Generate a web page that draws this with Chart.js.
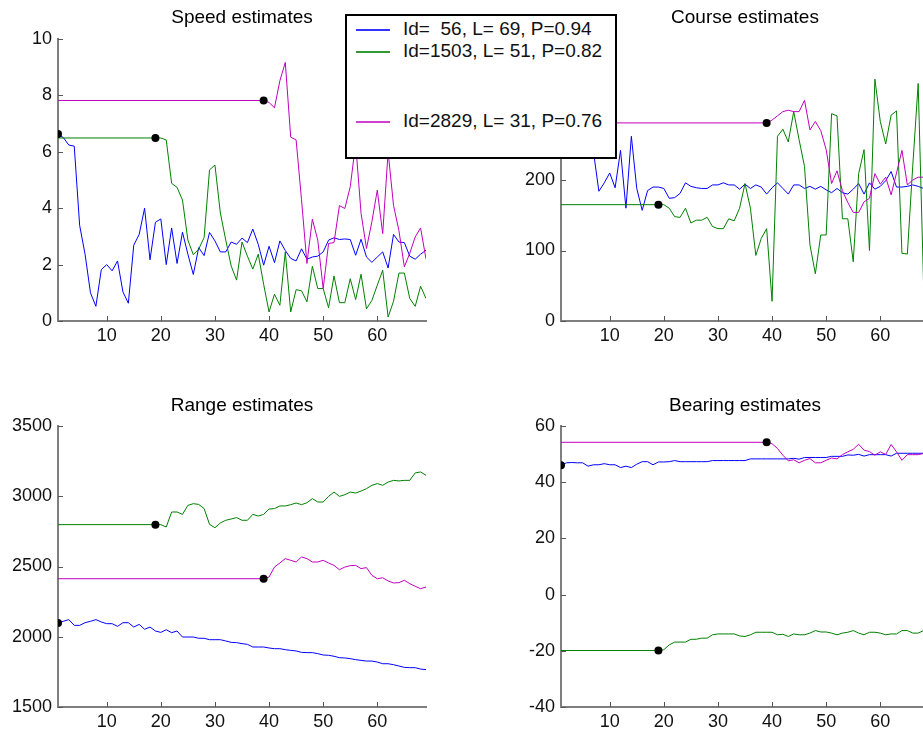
<!DOCTYPE html>
<html>
<head>
<meta charset="utf-8">
<title>Track estimates</title>
<script src="https://cdn.jsdelivr.net/npm/chart.js@4.4.1/dist/chart.umd.min.js"></script>
<style>
  html, body { margin: 0; padding: 0; background: #fff; overflow: hidden; }
  body { position: relative; width: 923px; height: 735px; font-family: "Liberation Sans", Arial, Helvetica, sans-serif; }
  canvas { position: absolute; }
  #legend {
    position: absolute; left: 345px; top: 14px; width: 268px; height: 141px;
    border: 2px solid #000; background: #fff; z-index: 5;
  }
  #legend .row { position: absolute; left: 0; height: 20px; width: 100%; }
  #legend .swatch { position: absolute; left: 9px; top: 10px; width: 34px; height: 2px; }
  #legend .txt { position: absolute; left: 56px; top: 0; font-size: 19px; line-height: 20px; white-space: pre; color: #111; }
</style>
</head>
<body>
<canvas id="speed" width="440" height="350" style="left:0;top:0"></canvas>
<canvas id="course" width="440" height="350" style="left:503px;top:0"></canvas>
<canvas id="range" width="440" height="350" style="left:0;top:386px"></canvas>
<canvas id="bearing" width="440" height="350" style="left:503px;top:386px"></canvas>

<div id="legend">
  <div class="row" style="top:3px"><div class="swatch" style="background:#3333ff"></div><div class="txt">Id=  56, L= 69, P=0.94</div></div>
  <div class="row" style="top:25px"><div class="swatch" style="background:#339933"></div><div class="txt">Id=1503, L= 51, P=0.82</div></div>
  <div class="row" style="top:95px"><div class="swatch" style="background:#d040d0"></div><div class="txt">Id=2829, L= 31, P=0.76</div></div>
</div>

<script>
// track start scans (each track is held constant before it starts)
const blueStart = 1;
const greenStart = 19;
const magentaStart = 39;
const lastScan = 69;

const xTicks = [10, 20, 30, 40, 50, 60];
const speedTicks = [0, 2, 4, 6, 8, 10];
const courseTicks = [0, 100, 200, 300, 400];
const rangeTicks = [1500, 2000, 2500, 3000, 3500];
const bearingTicks = [-40, -20, 0, 20, 40, 60];

// speed estimates
const speedBlue = [6.63, 6.5, 6.24, 6.2, 3.39, 2.37, 1.0, 0.52, 1.82, 2.0,
  1.78, 2.13, 1.03, 0.63, 2.69, 3.07, 4.0, 2.17, 3.5, 3.62,
  2.0, 3.3, 2.04, 3.15, 2.37, 1.65, 2.6, 2.32, 3.14, 2.84,
  2.45, 2.45, 2.8, 2.72, 2.94, 2.78, 3.26, 2.72, 1.98, 2.65,
  2.07, 2.84, 2.5, 2.22, 2.13, 2.56, 2.19, 2.27, 2.3, 2.45,
  2.87, 2.95, 2.89, 2.91, 2.89, 2.33, 2.9, 2.27, 2.08, 2.27,
  2.45, 1.88, 3.07, 2.8, 2.78, 2.3, 2.19, 2.37, 2.51];
const speedGreen = [6.49, 6.49, 6.42, 4.88, 4.74, 4.29, 2.87, 2.35, 2.55, 2.96,
  5.36, 5.53, 3.83, 2.87, 1.95, 1.45, 2.8, 2.3, 1.84, 2.37,
  1.3, 0.32, 0.95, 0.56, 2.45, 0.32, 1.11, 1.07, 0.68, 1.94,
  1.15, 1.15, 0.47, 1.6, 0.65, 0.65, 1.5, 0.76, 1.66, 0.43,
  0.73, 1.27, 1.8, 0.14, 0.7, 1.7, 1.7, 0.8, 0.52, 1.23, 0.8];
const speedMagenta = [7.82, 7.75, 7.56, 8.52, 9.17, 6.52, 6.42, 4.3, 2.04, 3.61,
  2.87, 1.15, 2.75, 2.78, 4.09, 3.99, 4.76, 6.3, 3.82, 2.57,
  3.52, 4.64, 3.1, 6.0, 4.1, 3.2, 1.92, 2.4, 2.98, 3.3, 2.2];

// course estimates
const courseBlue = [300, 290, 285, 270, 265, 255, 240, 184, 196, 210,
  189, 242, 160, 262, 188, 157, 185, 190, 190, 188,
  174, 175, 181, 196, 191, 189, 188, 188, 193, 193,
  196, 193, 193, 187, 194, 188, 193, 190, 180, 189,
  196, 188, 180, 193, 193, 188, 191, 187, 191, 186,
  182, 188, 182, 180, 187, 195, 180, 196, 187, 191,
  199, 212, 190, 190, 191, 193, 191, 188, 188];
const courseGreen = [165, 165, 160, 148, 147, 160, 139, 143, 143, 147,
  134, 131, 131, 145, 142, 160, 195, 160, 93, 117,
  131, 28, 262, 272, 254, 297, 257, 219, 108, 67,
  122, 122, 294, 291, 145, 145, 84, 209, 243, 100,
  343, 283, 251, 292, 298, 96, 95, 220, 337, 51, 150];
const courseMagenta = [281, 285, 291, 297, 299, 297, 297, 313, 271, 283,
  270, 243, 195, 213, 185, 168, 154, 154, 169, 174,
  209, 194, 204, 179, 210, 242, 193, 200, 204, 204, 204];

// range estimates
const rangeBlue = [2098, 2110, 2122, 2081, 2081, 2100, 2110, 2122, 2105, 2093,
  2093, 2074, 2100, 2100, 2069, 2088, 2053, 2069, 2041, 2031,
  2050, 2029, 2041, 1998, 1998, 1998, 1989, 1989, 1979, 1979,
  1979, 1970, 1960, 1958, 1951, 1946, 1927, 1927, 1927, 1920,
  1915, 1915, 1908, 1903, 1899, 1889, 1887, 1887, 1880, 1870,
  1868, 1861, 1851, 1849, 1844, 1837, 1832, 1827, 1827, 1820,
  1808, 1808, 1801, 1792, 1782, 1780, 1780, 1770, 1766];
const rangeGreen = [2798, 2798, 2781, 2888, 2888, 2871, 2935, 2947, 2942, 2912,
  2800, 2776, 2810, 2829, 2838, 2848, 2829, 2829, 2871, 2859,
  2871, 2909, 2912, 2931, 2931, 2940, 2952, 2940, 2954, 2983,
  2959, 2959, 2999, 3030, 2999, 3011, 3030, 3023, 3037, 3054,
  3078, 3090, 3078, 3101, 3113, 3109, 3113, 3113, 3166, 3173, 3149];
const rangeMagenta = [2413, 2425, 2496, 2525, 2556, 2544, 2532, 2568, 2556, 2532,
  2532, 2544, 2525, 2508, 2477, 2496, 2506, 2508, 2485, 2492,
  2437, 2413, 2420, 2397, 2383, 2385, 2402, 2378, 2359, 2342, 2354];

// bearing estimates
const bearingBlue = [46.0, 46.9, 47.0, 46.9, 46.9, 45.7, 46.2, 46.2, 46.6, 46.2,
  46.2, 45.2, 45.7, 45.2, 46.4, 47.3, 47.3, 46.2, 47.2, 47.2,
  47.3, 47.7, 47.3, 47.3, 47.3, 47.3, 47.3, 47.3, 47.7, 47.7,
  47.7, 47.7, 47.7, 47.7, 47.7, 48.3, 48.3, 48.3, 48.3, 48.3,
  48.3, 48.3, 48.3, 48.5, 48.2, 48.8, 48.8, 48.8, 48.8, 48.8,
  49.2, 49.2, 49.2, 49.7, 49.6, 49.9, 49.3, 49.8, 49.8, 49.8,
  49.8, 49.3, 50.3, 50.3, 50.3, 50.3, 50.3, 50.3, 50.3];
const bearingGreen = [-19.9, -19.6, -17.9, -16.9, -16.9, -16.9, -15.9, -15.9, -15.5, -15.5,
  -14.3, -14, -14, -14, -14, -14.7, -14.9, -14.3, -13.4, -13.4,
  -13.4, -13.4, -14.3, -14.1, -14.9, -14, -14.3, -14.3, -13.7, -12.8,
  -13.3, -13.3, -13.7, -14.3, -13.7, -13.4, -12.8, -13.7, -14.3, -13.4,
  -13.4, -13.7, -14.3, -14, -14, -12.8, -12.8, -13.7, -13.7, -12.8, -12.8];
const bearingMagenta = [54.2, 53.7, 52, 49.6, 47.6, 48, 46.9, 47.8, 48.4, 46.9,
  46.9, 47.8, 48.6, 48.3, 49.8, 50.8, 51.7, 53.5, 51.4, 50.9,
  49.6, 50.8, 49.9, 53.4, 50.8, 47.8, 49.8, 49.8, 49.8, 50.2, 50.2];

const FONT = '"Liberation Sans", Arial, Helvetica, sans-serif';
const BLUE = "#0000ff";
const GREEN = "#008000";
const MAGENTA = "#bf00bf";

Chart.defaults.font.family = FONT;

// track held at its first value from scan 1 up to its start, then the estimates
function trackPoints(values, start) {
  const pts = [{ x: 1, y: values[0] }];
  values.forEach((v, i) => pts.push({ x: start + i, y: v }));
  return pts;
}

function lineSet(values, start, color) {
  return {
    data: trackPoints(values, start),
    borderColor: color,
    borderWidth: 1,
    pointRadius: 0,
    tension: 0,
    fill: false,
  };
}

// inward tick marks and a title centred over the plot area
const axesDecor = {
  id: "axesDecor",
  afterDraw(chart, args, opts) {
    const { ctx, chartArea: a, scales } = chart;
    ctx.save();
    ctx.strokeStyle = "#555";
    ctx.lineWidth = 1;
    ctx.beginPath();
    scales.x.ticks.forEach((t) => {
      const px = Math.round(scales.x.getPixelForValue(t.value)) + 0.5;
      ctx.moveTo(px, a.bottom);
      ctx.lineTo(px, a.bottom - 5);
    });
    scales.y.ticks.forEach((t) => {
      const py = Math.round(scales.y.getPixelForValue(t.value)) + 0.5;
      ctx.moveTo(a.left, py);
      ctx.lineTo(a.left + 5, py);
    });
    ctx.stroke();

    ctx.fillStyle = "#000";
    ctx.font = "19px " + FONT;
    ctx.textAlign = "center";
    ctx.textBaseline = "alphabetic";
    ctx.fillText(opts.text, (a.left + a.right) / 2, opts.baseline);
    ctx.restore();
  },
};

function makeChart(id, title, baseline, padTop, yTicks, blue, green, magenta) {
  const dots = [
    { x: blueStart, y: blue[0] },
    { x: greenStart, y: green[0] },
    { x: magentaStart, y: magenta[0] },
  ];
  const tickFont = { size: 18, family: FONT };
  return new Chart(document.getElementById(id).getContext("2d"), {
    type: "line",
    data: {
      datasets: [
        {
          data: dots,
          showLine: false,
          pointRadius: 4,
          pointBackgroundColor: "#000",
          pointBorderColor: "#000",
          pointBorderWidth: 0,
        },
        lineSet(magenta, magentaStart, MAGENTA),
        lineSet(green, greenStart, GREEN),
        lineSet(blue, blueStart, BLUE),
      ],
    },
    plugins: [axesDecor],
    options: {
      responsive: false,
      animation: false,
      events: [],
      layout: { padding: { top: padTop, right: 14, left: 0, bottom: 0 } },
      plugins: {
        legend: { display: false },
        tooltip: { enabled: false },
        axesDecor: { text: title, baseline: baseline },
      },
      scales: {
        x: {
          type: "linear",
          min: 1,
          max: lastScan,
          afterFit: (s) => { s.height = 29; },
          afterBuildTicks: (s) => { s.ticks = xTicks.map((v) => ({ value: v })); },
          grid: { display: false, drawTicks: false },
          border: { display: true, color: "#7f7f7f", width: 2 },
          ticks: { font: tickFont, color: "#111", padding: 4, maxRotation: 0, callback: (v) => String(v) },
        },
        y: {
          type: "linear",
          min: yTicks[0],
          max: yTicks[yTicks.length - 1],
          afterFit: (s) => { s.width = 58; },
          afterBuildTicks: (s) => { s.ticks = yTicks.map((v) => ({ value: v })); },
          grid: { display: false, drawTicks: false },
          border: { display: true, color: "#7f7f7f", width: 2 },
          ticks: { font: tickFont, color: "#111", padding: 6, callback: (v) => String(v) },
        },
      },
    },
  });
}

makeChart("speed", "Speed estimates", 23, 39, speedTicks, speedBlue, speedGreen, speedMagenta);
makeChart("course", "Course estimates", 23, 39, courseTicks, courseBlue, courseGreen, courseMagenta);
makeChart("range", "Range estimates", 24.5, 40, rangeTicks, rangeBlue, rangeGreen, rangeMagenta);
makeChart("bearing", "Bearing estimates", 24.5, 40, bearingTicks, bearingBlue, bearingGreen, bearingMagenta);
</script>
</body>
</html>
